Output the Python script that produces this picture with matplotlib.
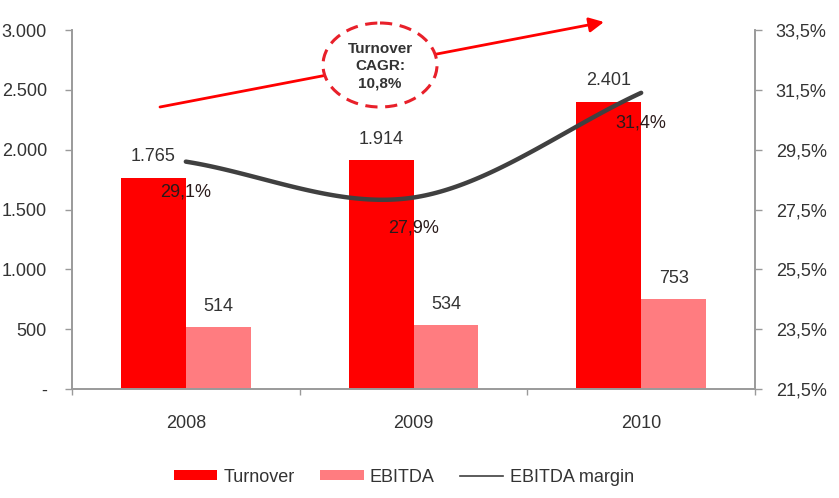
import numpy as np
import matplotlib
matplotlib.use("Agg")
import matplotlib.pyplot as plt
from matplotlib.patches import Ellipse, FancyArrowPatch
from matplotlib.lines import Line2D
from matplotlib.patches import Patch

plt.rcParams['font.family'] = ['Liberation Sans', 'DejaVu Sans']

years = ["2008", "2009", "2010"]
turnover = [1765, 1914, 2401]
ebitda = [514, 534, 753]
margin = [29.1, 27.9, 31.4]
turnover_labels = ["1.765", "1.914", "2.401"]
ebitda_labels = ["514", "534", "753"]
margin_labels = ["29,1%", "27,9%", "31,4%"]
left_ticks = [0, 500, 1000, 1500, 2000, 2500, 3000]
left_ticklabels = ["-", "500", "1.000", "1.500", "2.000", "2.500", "3.000"]
right_ticks = [21.5, 23.5, 25.5, 27.5, 29.5, 31.5, 33.5]
right_ticklabels = ["21,5%", "23,5%", "25,5%", "27,5%", "29,5%", "31,5%", "33,5%"]
cagr_text = "Turnover\nCAGR:\n10,8%"

W, H = 839, 498
fig = plt.figure(figsize=(W / 100, H / 100), dpi=100)
ax = fig.add_axes([72 / W, (H - 389) / H, 683 / W, 359 / H])
ax2 = ax.twinx()

RED = "#FF0000"
PINK = "#FF7C80"
LINE = "#404040"
SPINE = "#9a9a9a"
TXT = "#333333"
FS = 13

x = np.arange(len(years))
w = 0.285
ax.bar(x - w / 2, turnover, width=w, color=RED, zorder=2)
ax.bar(x + w / 2, ebitda, width=w, color=PINK, zorder=2)

ax.set_xlim(-0.5, 2.5)
ax.set_ylim(0, 3000)
ax.set_yticks(left_ticks)
ax.set_yticklabels(left_ticklabels)
ax.set_xticks(x)
ax.set_xticklabels(years)
ax.set_xticks([-0.5, 0.5, 1.5, 2.5], minor=True)
ax.tick_params(axis='x', which='major', length=0, pad=19, labelsize=FS, labelcolor=TXT)
ax.tick_params(axis='x', which='minor', length=4, color=SPINE, width=1)
ax.tick_params(axis='y', length=5, color=SPINE, width=1, pad=13, labelsize=FS, labelcolor=TXT)

for sp in ['top']:
    ax.spines[sp].set_visible(False)
    ax2.spines[sp].set_visible(False)
for a in (ax, ax2):
    for sp in ['left', 'right', 'bottom']:
        a.spines[sp].set_color(SPINE)
        a.spines[sp].set_linewidth(1.2)

ax2.set_ylim(21.5, 33.5)
ax2.set_yticks(right_ticks)
ax2.set_yticklabels(right_ticklabels)
ax2.tick_params(axis='y', length=5, color=SPINE, width=1, pad=10, labelsize=FS, labelcolor=TXT)

# smooth line (cubic Hermite through the points)
xs = x.astype(float)
ys = np.array(margin, dtype=float)
m = np.zeros_like(ys)
m[1:-1] = (ys[2:] - ys[:-2]) / (xs[2:] - xs[:-2])
m[0] = ys[1] - ys[0]
m[-1] = ys[-1] - ys[-2]
cx, cy = [], []
for i in range(len(xs) - 1):
    t = np.linspace(0, 1, 60)
    h = xs[i + 1] - xs[i]
    h00 = 2 * t**3 - 3 * t**2 + 1
    h10 = t**3 - 2 * t**2 + t
    h01 = -2 * t**3 + 3 * t**2
    h11 = t**3 - t**2
    cx.extend(xs[i] + t * h)
    cy.extend(h00 * ys[i] + h10 * h * m[i] + h01 * ys[i + 1] + h11 * h * m[i + 1])
ax2.plot(cx, cy, color=LINE, lw=3.2, solid_capstyle='round', zorder=3)

for xi, v, lab in zip(x, turnover, turnover_labels):
    ax.annotate(lab, (xi - w / 2, v), xytext=(0, 15), textcoords='offset points',
                ha='center', va='center', fontsize=FS, color=TXT, zorder=5)
for xi, v, lab in zip(x, ebitda, ebitda_labels):
    ax.annotate(lab, (xi + w / 2, v), xytext=(0, 15), textcoords='offset points',
                ha='center', va='center', fontsize=FS, color=TXT, zorder=5)
for xi, v, lab in zip(x, margin, margin_labels):
    ax2.annotate(lab, (xi, v), xytext=(0, -22), textcoords='offset points',
                 ha='center', va='center', fontsize=FS, color="#2a1a1a", zorder=5)

# CAGR annotation overlay (figure pixel coordinates)
ov = fig.add_axes([0, 0, 1, 1], zorder=10)
ov.set_xlim(0, W)
ov.set_ylim(H, 0)
ov.axis('off')
ov.patch.set_alpha(0)
arr = FancyArrowPatch((160, 107), (604, 22), arrowstyle='-|>', mutation_scale=22,
                      color=RED, lw=2.0, shrinkA=0, shrinkB=0)
ov.add_patch(arr)
ell = Ellipse((380, 65), 114, 84, facecolor='white', edgecolor="#E8202A",
              lw=2.2, linestyle=(0, (4, 2.5)), zorder=3)
ov.add_patch(ell)
ov.text(380, 66, cagr_text, ha='center', va='center', fontsize=11,
        fontweight='bold', color=TXT, linespacing=1.3, zorder=4)

handles = [Patch(facecolor=RED, edgecolor='none'),
           Patch(facecolor=PINK, edgecolor='none'),
           Line2D([0], [0], color=LINE, lw=1.2)]
fig.legend(handles, ["Turnover", "EBITDA", "EBITDA margin"], loc='center',
           bbox_to_anchor=(404 / W, 1 - 477 / H), ncol=3, frameon=False,
           fontsize=FS, handlelength=2.4, handleheight=0.45, handletextpad=0.35,
           columnspacing=1.4, labelcolor=TXT)

fig.savefig("out.png", dpi=100)
